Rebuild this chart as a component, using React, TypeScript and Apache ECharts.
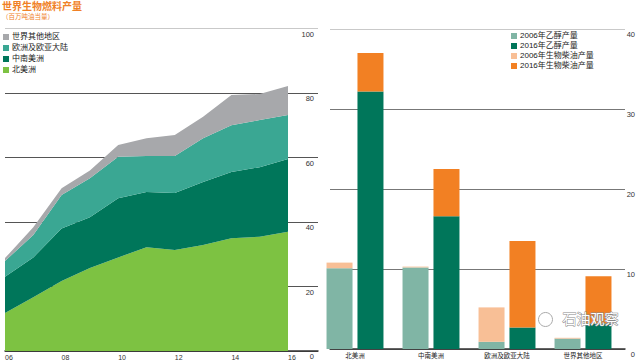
import React, { useEffect, useRef } from "react";
import * as echarts from "echarts";

const years = ["06", "07", "08", "09", "10", "11", "12", "13", "14", "15", "16"];
const northAmerica = [11.8, 16.7, 21.7, 25.7, 29.0, 32.2, 31.3, 32.9, 35.0, 35.4, 37.0];
const southAmerica = [11.2, 12.3, 16.3, 15.8, 18.4, 17.1, 17.7, 19.5, 20.5, 21.6, 22.5];
const europe = [4.9, 7.0, 10.4, 12.1, 12.8, 11.2, 11.5, 13.6, 14.5, 14.6, 13.7];
const otherRegions = [0.9, 2.4, 2.1, 2.4, 3.7, 5.5, 6.5, 6.6, 9.4, 8.1, 9.0];

const regions = ["北美洲", "中南美洲", "欧洲及欧亚大陆", "世界其他地区"];
const ethanol2006 = [10.1, 10.2, 0.9, 1.3];
const ethanol2016 = [32.2, 16.6, 2.7, 3.2];
const biodiesel2006 = [0.7, 0.1, 4.3, 0.1];
const biodiesel2016 = [4.8, 5.9, 10.8, 5.9];

const FONT = '"Liberation Sans", "Noto Sans CJK SC", sans-serif';
const C_NA = "#7dc242";
const C_SA = "#00765a";
const C_EU = "#3aa793";
const C_OT = "#a7a8ab";
const C_E06 = "#80b5a5";
const C_E16 = "#00765a";
const C_B06 = "#f8bf96";
const C_B16 = "#f28023";
const ORANGE = "#f08127";

export default function App() {
  const ref = useRef<HTMLDivElement>(null);
  useEffect(() => {
    if (!ref.current) return;
    const chart = echarts.init(ref.current, undefined, { renderer: "svg" });
    const areaSeries = (name: string, data: number[], color: string) => ({
      name,
      type: "line",
      stack: "total",
      xAxisIndex: 0,
      yAxisIndex: 0,
      data,
      symbol: "none",
      color,
      itemStyle: { color },
      lineStyle: { width: 0, color },
      areaStyle: { color, opacity: 1 },
    });
    const barSeries = (name: string, data: number[], color: string, stack: string) => ({
      name,
      type: "bar",
      stack,
      xAxisIndex: 1,
      yAxisIndex: 1,
      data,
      color,
      itemStyle: { color },
      barWidth: 26,
      barGap: "19%",
    });
    const option: any = {
      animation: false,
      textStyle: { fontFamily: FONT },
      title: {
        text: "世界生物燃料产量",
        subtext: "（百万吨油当量）",
        left: 2,
        top: 1,
        itemGap: 2,
        padding: 0,
        textStyle: { fontSize: 10, fontWeight: "bold", color: ORANGE, fontFamily: FONT },
        subtextStyle: { fontSize: 6.5, color: ORANGE, fontFamily: FONT },
      },
      legend: [
        {
          left: 3,
          top: 33,
          orient: "vertical",
          itemWidth: 6,
          itemHeight: 6,
          itemGap: 3,
          icon: "rect",
          padding: 0,
          textStyle: { fontSize: 8, color: "#222", fontFamily: FONT, padding: [0, 0, 0, -2] },
          data: ["世界其他地区", "欧洲及欧亚大陆", "中南美洲", "北美洲"],
        },
        {
          left: 511,
          top: 32,
          orient: "vertical",
          itemWidth: 6,
          itemHeight: 6,
          itemGap: 2,
          icon: "rect",
          padding: 0,
          textStyle: { fontSize: 8, color: "#222", fontFamily: FONT, padding: [0, 0, 0, -2] },
          data: ["2006年乙醇产量", "2016年乙醇产量", "2006年生物柴油产量", "2016年生物柴油产量"],
        },
      ],
      grid: [
        { left: 5, top: 28.5, width: 283, height: 322.5 },
        { left: 317, top: 29, width: 304, height: 320 },
        { left: 330, top: 29, width: 295, height: 320 },
        { left: 5, top: 28.5, width: 313, height: 322.5 },
      ],
      xAxis: [
        {
          type: "category",
          gridIndex: 0,
          data: years,
          boundaryGap: false,
          splitLine: { show: false },
          axisTick: { show: false },
          axisLine: { show: false },
          axisLabel: {
            interval: 1,
            align: "left",
            margin: 3,
            fontSize: 7,
            color: "#333",
          },
        },
        {
          type: "category",
          gridIndex: 1,
          data: regions,
          axisLine: { show: false },
          axisTick: { show: false },
          axisLabel: { fontSize: 6.5, color: "#222", margin: 3, interval: 0 },
        },
        {
          type: "value",
          gridIndex: 2,
          min: 0,
          max: 1,
          axisLine: { show: true, lineStyle: { color: "#333", width: 1.5 } },
          axisTick: { show: false },
          axisLabel: { show: false },
          splitLine: { show: false },
        },
        {
          type: "value",
          gridIndex: 3,
          min: 0,
          max: 1,
          axisLine: { show: true, lineStyle: { color: "#333", width: 1.5 } },
          axisTick: { show: false },
          axisLabel: { show: false },
          splitLine: { show: false },
        },
      ],
      yAxis: [
        {
          type: "value",
          gridIndex: 0,
          min: 0,
          max: 100,
          show: false,
          splitLine: { show: false },
        },
        {
          type: "value",
          gridIndex: 1,
          min: 0,
          max: 40,
          show: false,
          splitLine: { show: false },
        },
        {
          type: "value",
          gridIndex: 2,
          position: "right",
          min: 0,
          max: 40,
          interval: 10,
          axisLine: { show: false },
          axisTick: { show: false },
          axisLabel: {
            align: "right",
            margin: 10,
            fontSize: 7.5,
            color: "#333",
            verticalAlign: "top",
            padding: [2, 0, 0, 0],
          },
          splitLine: {
            show: true,
            lineStyle: { color: ["#777", "#777", "#777", "#777", "#c9c9c9"], width: 1 },
          },
        },
        {
          type: "value",
          gridIndex: 3,
          position: "right",
          min: 0,
          max: 100,
          interval: 20,
          axisLine: { show: false },
          axisTick: { show: false },
          axisLabel: {
            inside: true,
            margin: 4,
            fontSize: 7.5,
            color: "#333",
            verticalAlign: "top",
            padding: [2, 0, 0, 0],
          },
          splitLine: {
            show: true,
            lineStyle: { color: ["#555", "#555", "#555", "#555", "#555", "#c9c9c9"], width: 1 },
          },
        },
      ],
      series: [
        areaSeries("北美洲", northAmerica, C_NA),
        areaSeries("中南美洲", southAmerica, C_SA),
        areaSeries("欧洲及欧亚大陆", europe, C_EU),
        areaSeries("世界其他地区", otherRegions, C_OT),
        barSeries("2006年乙醇产量", ethanol2006, C_E06, "y2006"),
        barSeries("2016年乙醇产量", ethanol2016, C_E16, "y2016"),
        barSeries("2006年生物柴油产量", biodiesel2006, C_B06, "y2006"),
        barSeries("2016年生物柴油产量", biodiesel2016, C_B16, "y2016"),
      ],
      graphic: [
        {
          type: "circle",
          left: 538,
          top: 312,
          z: 100,
          shape: { r: 7 },
          style: { fill: "#fff", stroke: "#aaa", lineWidth: 1 },
        },
        {
          type: "text",
          left: 562,
          top: 311,
          z: 100,
          style: {
            text: "石油观察",
            fontSize: 14,
            fontFamily: FONT,
            fill: "#fff",
            stroke: "#888",
            lineWidth: 1,
          },
        },
      ],
    };
    chart.setOption(option);
    return () => chart.dispose();
  }, []);
  return (
    <div
      ref={ref}
      style={{ position: "fixed", left: 0, top: 0, width: 640, height: 361, background: "#fff" }}
    />
  );
}
